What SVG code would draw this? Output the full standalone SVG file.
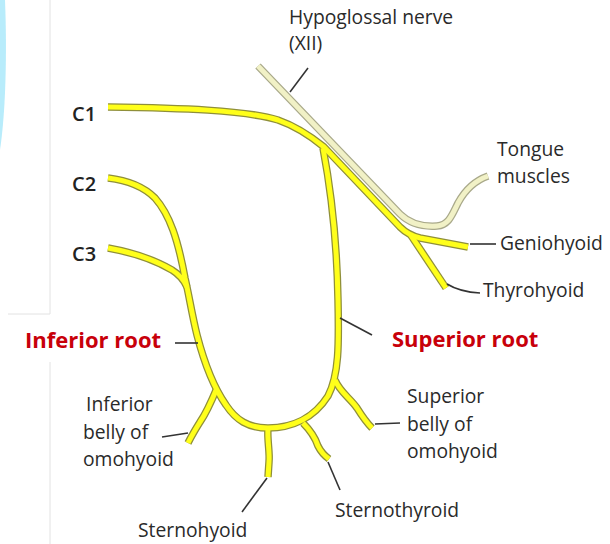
<svg xmlns="http://www.w3.org/2000/svg" width="610" height="544" viewBox="0 0 610 544">
<style>
.out{fill:none;stroke:#8f8f3a;stroke-width:7.5;stroke-linecap:butt;stroke-linejoin:round}
.nerve{fill:none;stroke:#ffff1a;stroke-width:5;stroke-linecap:butt;stroke-linejoin:round}
.pout{fill:none;stroke:#a9a98a;stroke-width:7.5;stroke-linecap:butt;stroke-linejoin:round}
.pale{fill:none;stroke:#f1f1c6;stroke-width:5;stroke-linecap:butt;stroke-linejoin:round}
.lead{fill:none;stroke:#333;stroke-width:1.6}
.lbl{font-family:"Open Sans","Noto Sans",sans-serif;font-size:19.3px;fill:#2a2a2a}
.c{font-family:"Open Sans","Noto Sans",sans-serif;font-size:20px;font-weight:600;fill:#222}
.red{font-family:"Open Sans","Noto Sans",sans-serif;font-size:22px;font-weight:700;fill:#c8000a}
</style>
<defs>
<path id="pC1" d="M108,107 C180,108 245,110 278,120 C298,127 313,138 324,147 L400,227 Q408,235 420,238 L468,247"/>
<path id="pThy" d="M410,234 L446,288"/>
<path id="pLoop" d="M323,148 C331,190 337,245 338,300 C339,345 339,375 328,396 C314,418 292,428 268,428 C248,428 236,420 226,405 C212,385 204,362 197,335 C192,315 189,295 185,278 C178,240 170,215 155,198 C142,185 125,180 108,178"/>
<path id="pC3" d="M108,248 C130,252 155,260 172,270 C180,275 184,280 187,287"/>
<path id="pIB" d="M217,388 C212,400 207,412 200,422 C195,430 191,437 188,443"/>
<path id="pSH" d="M268,428 C267,440 270,452 269,462 L268,477"/>
<path id="pST" d="M303,423 C310,430 315,437 318,446 C321,452 325,456 329,459"/>
<path id="pSB" d="M335,380 C340,392 350,398 357,408 C362,416 366,422 372,428"/>
<path id="pXII" d="M258,66 L400,214 C410,224 422,227 437,226 C449,225 452,215 458,203 C465,190 474,181 488,176"/>
</defs>

<g id="background">
<path d="M0,0 L5,0 C7,50 6,110 0,150 Z" fill="#b8ecfb"/>
<path d="M50,0 L50,314 L8,314 M50,362 L50,544" fill="none" stroke="#e2e2e2" stroke-width="1"/>
</g>

<g id="nerves">
<g id="ansa-cervicalis">
<use href="#pLoop" class="out"/><use href="#pC3" class="out"/><use href="#pIB" class="out"/><use href="#pSH" class="out"/><use href="#pST" class="out"/><use href="#pSB" class="out"/><use href="#pC1" class="out"/><use href="#pThy" class="out"/>
<use href="#pLoop" class="nerve"/><use href="#pC3" class="nerve"/><use href="#pIB" class="nerve"/><use href="#pSH" class="nerve"/><use href="#pST" class="nerve"/><use href="#pSB" class="nerve"/><use href="#pC1" class="nerve"/><use href="#pThy" class="nerve"/>
</g>
<g id="hypoglossal">
<use href="#pXII" class="pout"/><use href="#pXII" class="pale"/>
</g>
</g>

<g id="connectors">
<path class="lead" d="M308,68 L290,92"/>
<path class="lead" d="M470,244 L496,244"/>
<path class="lead" d="M447,284 Q460,292 480,293"/>
<path class="lead" d="M175,343 L198,343"/>
<path class="lead" d="M340,318 L372,335"/>
<path class="lead" d="M162,437 L188,433"/>
<path class="lead" d="M267,478 L242,512"/>
<path class="lead" d="M328,462 L340,490"/>
<path class="lead" d="M375,424 L400,423"/>
</g>

<g id="label-xii"><text class="lbl" x="289" y="24">Hypoglossal nerve</text><text class="lbl" x="289" y="50">(XII)</text></g>
<g id="label-c1"><text class="c" x="72" y="121">C1</text></g>
<g id="label-c2"><text class="c" x="72" y="191">C2</text></g>
<g id="label-c3"><text class="c" x="72" y="261">C3</text></g>
<g id="label-tongue"><text class="lbl" x="497" y="156">Tongue</text><text class="lbl" x="497" y="183">muscles</text></g>
<g id="label-geniohyoid"><text class="lbl" x="500" y="250">Geniohyoid</text></g>
<g id="label-thyrohyoid"><text class="lbl" x="483" y="297">Thyrohyoid</text></g>
<g id="label-inferior-root"><text class="red" x="25" y="348">Inferior root</text></g>
<g id="label-superior-root"><text class="red" x="392" y="347">Superior root</text></g>
<g id="label-inferior-belly"><text class="lbl" x="86" y="411">Inferior</text><text class="lbl" x="83" y="439">belly of</text><text class="lbl" x="83" y="466">omohyoid</text></g>
<g id="label-superior-belly"><text class="lbl" x="407" y="403">Superior</text><text class="lbl" x="407" y="431">belly of</text><text class="lbl" x="407" y="458">omohyoid</text></g>
<g id="label-sternothyroid"><text class="lbl" x="335" y="517">Sternothyroid</text></g>
<g id="label-sternohyoid"><text class="lbl" x="138" y="537">Sternohyoid</text></g>
</svg>
